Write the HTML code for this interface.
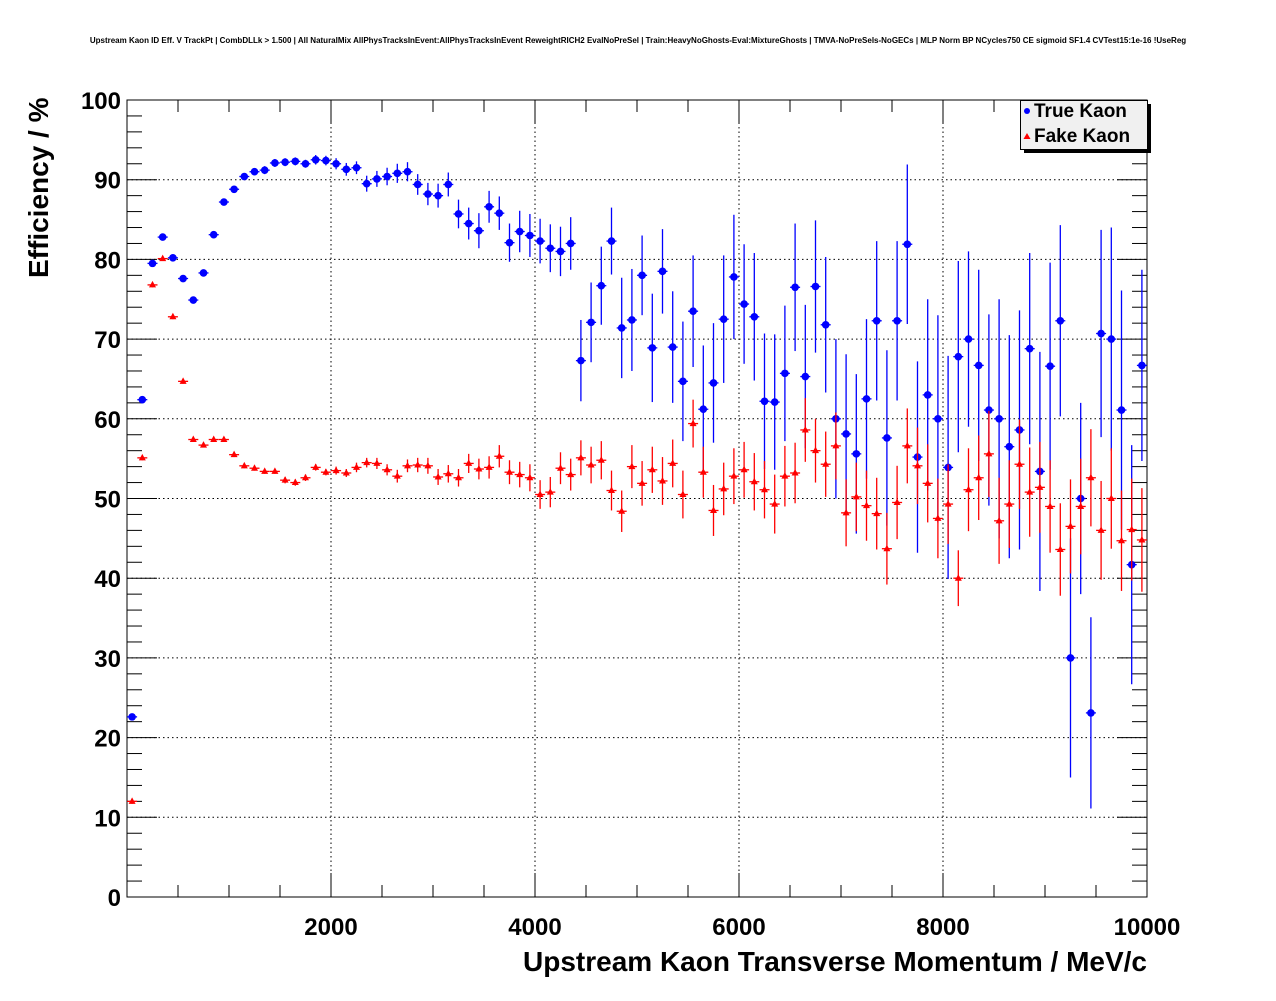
<!DOCTYPE html>
<html><head><meta charset="utf-8"><style>
body{margin:0;background:#fff;}
svg text{font-family:"Liberation Sans",sans-serif;font-weight:bold;}
</style></head><body>
<svg id="c" width="1276" height="996" xmlns="http://www.w3.org/2000/svg">
<rect width="1276" height="996" fill="#fff"/>
<text x="638" y="43" font-size="8" text-anchor="middle">Upstream Kaon ID Eff. V TrackPt | CombDLLk &gt; 1.500 | All NaturalMix AllPhysTracksInEvent:AllPhysTracksInEvent ReweightRICH2 EvalNoPreSel | Train:HeavyNoGhosts-Eval:MixtureGhosts | TMVA-NoPreSels-NoGECs | MLP Norm BP NCycles750 CE sigmoid SF1.4 CVTest15:1e-16 !UseReg</text>
<g id="grid"></g>
<g id="axes"></g>
<g id="marks"></g>
<text x="1147" y="971" font-size="28" text-anchor="end">Upstream Kaon Transverse Momentum / MeV/c</text>
<text transform="translate(48,278) rotate(-90)" font-size="28">Efficiency / %</text>
<g>
<rect x="1024" y="104" width="127" height="49" fill="#000"/>
<rect x="1020.5" y="100.5" width="127" height="49" fill="#f0f0f0" stroke="#000"/>
<circle cx="1027" cy="111" r="3" fill="#0000ff"/>
<text x="1034" y="117" font-size="19">True Kaon</text>
<polygon points="1027,133 1023.5,139 1030.5,139" fill="#ff0000"/>
<text x="1034" y="142" font-size="19">Fake Kaon</text>
</g>
</svg>
<script>
const xTicks=[2000,4000,6000,8000,10000];
const yTicks=[0,10,20,30,40,50,60,70,80,90,100];
const binCenters=[];for(let i=0;i<100;i++)binCenters.push(50+100*i);
const trueKaon=[22.6,62.4,79.5,82.8,80.2,77.6,74.9,78.3,83.1,87.2,88.8,90.4,91.0,91.2,92.1,92.2,92.3,92.0,92.5,92.4,92.0,91.3,91.5,89.5,90.1,90.4,90.8,91.0,89.4,88.2,88.0,89.4,85.7,84.5,83.6,86.6,85.8,82.1,83.5,83.0,82.3,81.4,81.0,82.0,67.3,72.1,76.7,82.3,71.4,72.4,78.0,68.9,78.5,69.0,64.7,73.5,61.2,64.5,72.5,77.8,74.4,72.8,62.2,62.1,65.7,76.5,65.3,76.6,71.8,60.0,58.1,55.6,62.5,72.3,57.6,72.3,81.9,55.2,63.0,60.0,53.9,67.8,70.0,66.7,61.1,60.0,56.5,58.6,68.8,53.4,66.6,72.3,30.0,50.0,23.1,70.7,70.0,61.1,41.7,66.7];
const trueErr=[0.4,0.4,0.4,0.4,0.4,0.4,0.4,0.4,0.4,0.4,0.4,0.4,0.4,0.5,0.5,0.5,0.5,0.5,0.6,0.6,0.7,0.8,0.8,1.0,1.0,1.1,1.2,1.2,1.3,1.4,1.5,1.5,1.8,2.0,2.2,2.0,2.1,2.4,2.6,2.7,2.8,3.0,3.1,3.3,5.1,5.0,4.9,4.2,6.3,6.4,5.0,6.8,5.3,7.0,7.5,7.0,8.0,7.5,8.0,7.8,7.5,8.0,8.5,8.5,8.5,8.0,9.0,8.3,8.5,10,10,10,10,10,11,10,10,12,12,13,14,12,11,12,12,15,14,15,12,15,13,12,15,12,12,13,14,15,15,12];
const fakeKaon=[12.0,55.1,76.8,80.1,72.8,64.7,57.4,56.7,57.4,57.4,55.5,54.1,53.8,53.4,53.4,52.3,52.0,52.6,53.9,53.3,53.5,53.2,53.9,54.5,54.4,53.6,52.8,54.1,54.2,54.1,52.7,53.1,52.6,54.4,53.7,53.9,55.3,53.3,53.0,52.6,50.5,50.8,53.8,53.0,55.1,54.2,54.8,51.0,48.4,54.0,51.9,53.6,52.2,54.4,50.5,59.4,53.3,48.5,51.2,52.8,53.6,52.1,51.1,49.3,52.8,53.2,58.6,56.0,54.3,56.6,48.2,50.2,49.1,48.1,43.7,49.5,56.6,54.1,51.9,47.5,49.3,40.0,51.1,52.6,55.6,47.2,49.3,54.3,50.8,51.4,49.0,43.6,46.5,49.0,52.6,46.0,50.0,44.7,46.1,44.8];
const fakeErr=[0.3,0.3,0.3,0.3,0.3,0.3,0.3,0.3,0.3,0.3,0.3,0.3,0.3,0.3,0.3,0.4,0.4,0.4,0.4,0.4,0.5,0.5,0.6,0.6,0.7,0.7,0.8,0.8,0.9,1.0,1.0,1.1,1.1,1.2,1.3,1.4,1.4,1.5,1.6,1.7,1.8,1.9,2.0,2.0,2.2,2.3,2.4,2.5,2.6,2.7,2.8,2.9,3.0,3.0,3.0,3.0,3.2,3.2,3.3,3.5,3.5,3.6,3.6,3.7,3.8,3.8,4.0,4.0,4.1,4.2,4.2,4.3,4.4,4.5,4.5,4.6,4.7,4.8,4.9,5.0,5.0,3.5,5.2,5.3,5.4,5.4,5.5,5.6,5.6,5.7,5.8,5.8,5.9,6.0,6.1,6.2,6.3,6.3,6.4,6.5];
const NS='http://www.w3.org/2000/svg';
const X0=127,X1=1147,Y0=897,Y1=100;
const xs=v=>X0+(v-0)*(X1-X0)/10000;
const ys=v=>Y0-(v)*(Y0-Y1)/100;
function mk(t,a,p){const e=document.createElementNS(NS,t);for(const k in a)e.setAttribute(k,a[k]);p.appendChild(e);return e;}
const grid=document.getElementById('grid'),axes=document.getElementById('axes'),marks=document.getElementById('marks');
xTicks.forEach(v=>{if(v<10000){const l=mk('line',{x1:xs(v),x2:xs(v),y1:Y1,y2:Y0,stroke:'#000','stroke-dasharray':'1.5,3'},grid);

}
const t=mk('text',{x:xs(v),y:935,'font-size':24,'text-anchor':'middle'},axes);t.textContent=v;

});
yTicks.forEach(v=>{if(v>0&&v<100){const l=mk('line',{x1:X0,x2:X1,y1:ys(v),y2:ys(v),stroke:'#000','stroke-dasharray':'1.5,3'},grid);

}
const t=mk('text',{x:121,y:ys(v)+9,'font-size':24,'text-anchor':'end'},axes);t.textContent=v;

});
mk('rect',{x:X0,y:Y1,width:X1-X0,height:Y0-Y1,fill:'none',stroke:'#000','stroke-width':1},axes);
for(let v=0;v<=100;v+=2){const L=v%10==0?30:15;
mk('line',{x1:X0,x2:X0+L,y1:ys(v),y2:ys(v),stroke:'#000'},axes);
mk('line',{x1:X1,x2:X1-L,y1:ys(v),y2:ys(v),stroke:'#000'},axes);}
for(let v=500;v<10000;v+=500){const L=v%2000==0?24:12;
mk('line',{x1:xs(v),x2:xs(v),y1:Y0,y2:Y0-L,stroke:'#000'},axes);
mk('line',{x1:xs(v),x2:xs(v),y1:Y1,y2:Y1+L,stroke:'#000'},axes);}
function draw(vals,errs,col,tri,name){vals.forEach((v,i)=>{const g=mk('g',{},marks);


const cx=xs(binCenters[i]),cy=ys(v);
mk('line',{x1:cx-5,x2:cx+5,y1:cy,y2:cy,stroke:col,'stroke-width':1.3},g);
mk('line',{x1:cx,x2:cx,y1:Math.min(Y0,ys(v-errs[i])),y2:Math.max(Y1,ys(v+errs[i])),stroke:col,'stroke-width':1.3},g);
if(tri)mk('polygon',{points:`${cx},${cy-4} ${cx-3.5},${cy+2.5} ${cx+3.5},${cy+2.5}`,fill:col},g);
else mk('circle',{cx:cx,cy:cy,r:3.8,fill:col},g);});}
draw(trueKaon,trueErr,'#0000ff',false,'true-kaon-point');
draw(fakeKaon,fakeErr,'#ff0000',true,'fake-kaon-point');
</script>
</body></html>
